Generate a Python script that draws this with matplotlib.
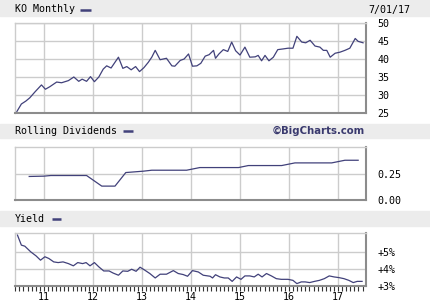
import matplotlib.pyplot as plt
from matplotlib.ticker import MultipleLocator, FixedLocator
from matplotlib.lines import Line2D
from matplotlib.patches import Rectangle

# KO monthly close (x in fractional years, 11 = 2011)
price_t = [10.43, 10.54, 10.63, 10.71, 10.82, 10.95, 11.03, 11.12, 11.26, 11.36,
           11.50, 11.61, 11.71, 11.78, 11.87, 11.95, 12.03, 12.12, 12.21, 12.28,
           12.37, 12.52, 12.61, 12.69, 12.78, 12.87, 12.95, 13.04, 13.13, 13.20,
           13.27, 13.37, 13.50, 13.61, 13.67, 13.78, 13.86, 13.95, 14.03, 14.12,
           14.20, 14.29, 14.37, 14.46, 14.50, 14.57, 14.66, 14.75, 14.83, 14.91,
           15.00, 15.10, 15.20, 15.31, 15.37, 15.44, 15.51, 15.59, 15.68, 15.77,
           15.88, 15.98, 16.08, 16.16, 16.26, 16.34, 16.43, 16.53, 16.63, 16.70,
           16.77, 16.84, 16.94, 17.04, 17.14, 17.24, 17.35, 17.41, 17.51]
price = [25.0, 27.5, 28.3, 29.2, 30.9, 32.8, 31.6, 32.3, 33.6, 33.4,
         34.0, 35.0, 33.8, 34.4, 33.8, 35.1, 33.7, 35.0, 37.2, 38.1,
         37.5, 40.5, 37.4, 37.9, 37.0, 37.9, 36.5, 37.6, 39.1, 40.5,
         42.4, 39.8, 40.2, 38.1, 38.0, 39.6, 40.0, 41.4, 38.0, 38.1,
         38.8, 40.8, 41.2, 42.4, 40.2, 41.4, 42.6, 42.1, 44.7, 42.3,
         41.1, 43.3, 40.5, 40.6, 41.0, 39.5, 41.0, 39.5, 40.5, 42.6,
         42.8, 43.0, 43.0, 46.3, 44.7, 44.5, 45.2, 43.6, 43.3, 42.4,
         42.4, 40.5, 41.6, 41.9, 42.4, 43.0, 45.7, 44.9, 44.5]

# rolling dividends
div_t = [10.70, 11.00, 11.14, 11.87, 12.18, 12.45, 12.67, 13.03, 13.20, 13.91,
         14.18, 14.97, 15.17, 15.85, 16.12, 16.87, 17.14, 17.41]
div = [0.222, 0.225, 0.231, 0.231, 0.131, 0.131, 0.259, 0.272, 0.281, 0.281,
       0.306, 0.306, 0.325, 0.325, 0.350, 0.350, 0.375, 0.375]

# dividend yield, %
yield_t = [10.46, 10.54, 10.61, 10.73, 10.84, 10.93, 11.02, 11.10, 11.20, 11.29,
           11.39, 11.50, 11.60, 11.69, 11.79, 11.86, 11.94, 12.03, 12.12, 12.22,
           12.33, 12.41, 12.52, 12.61, 12.71, 12.79, 12.88, 12.96, 13.04, 13.16,
           13.27, 13.37, 13.50, 13.64, 13.74, 13.84, 13.93, 14.03, 14.15, 14.25,
           14.39, 14.44, 14.50, 14.59, 14.68, 14.76, 14.84, 14.93, 15.02, 15.10,
           15.20, 15.29, 15.37, 15.45, 15.54, 15.64, 15.74, 15.84, 15.98, 16.08,
           16.16, 16.25, 16.33, 16.42, 16.52, 16.62, 16.72, 16.82, 16.92, 17.02,
           17.12, 17.22, 17.31, 17.39, 17.49]
yld = [5.98, 5.39, 5.33, 5.00, 4.76, 4.51, 4.71, 4.61, 4.41, 4.37,
       4.41, 4.31, 4.18, 4.37, 4.31, 4.37, 4.18, 4.37, 4.12, 3.88,
       3.88, 3.76, 3.63, 3.88, 3.86, 3.98, 3.86, 4.10, 3.96, 3.73,
       3.47, 3.69, 3.69, 3.90, 3.73, 3.67, 3.57, 3.90, 3.82, 3.63,
       3.57, 3.47, 3.66, 3.53, 3.47, 3.47, 3.27, 3.53, 3.39, 3.59,
       3.59, 3.53, 3.69, 3.53, 3.73, 3.59, 3.43, 3.39, 3.39, 3.33,
       3.14, 3.24, 3.24, 3.20, 3.27, 3.33, 3.43, 3.59, 3.53, 3.49,
       3.43, 3.33, 3.20, 3.27, 3.27]

years = [11, 12, 13, 14, 15, 16, 17]
year_labels = ['11', '12', '13', '14', '15', '16', '17']
price_ticks = [25, 30, 35, 40, 45, 50]
div_ticks = [0.0, 0.25]
div_labels = ['0.00', '0.25']
yld_ticks = [3, 4, 5]
yld_labels = ['+3%', '+4%', '+5%']

NAVY = '#41417a'
GRID = '#cccccc'
BAND = '#ececec'
DARK = '#8c8c8c'
MONO = 'DejaVu Sans Mono'
W, H = 430, 305
XMIN, XMAX = 10.41, 17.57

fig = plt.figure(figsize=(W / 100, H / 100), dpi=100)


def band(top, bottom):
    fig.patches.append(Rectangle((0, 1 - bottom / H), 1, (bottom - top) / H,
                                 transform=fig.transFigure, color=BAND, zorder=0))


def title(text, y, sw_x0, sw_x1):
    fig.text(15 / W, 1 - y / H, text, family=MONO, fontsize=7.2, va='center', ha='left')
    fig.add_artist(Line2D([sw_x0 / W, sw_x1 / W], [1 - y / H, 1 - y / H],
                          color=NAVY, lw=1.8, solid_capstyle='butt'))


def panel(top, bottom, ylim, ticks, labels):
    ax = fig.add_axes([15 / W, 1 - bottom / H, 351 / W, (bottom - top) / H])
    ax.set_xlim(XMIN, XMAX)
    ax.set_ylim(*ylim)
    ax.xaxis.set_major_locator(FixedLocator(years))
    ax.yaxis.set_major_locator(FixedLocator(ticks))
    ax.yaxis.tick_right()
    ax.set_yticklabels(labels, family=MONO, fontsize=7.2)
    ax.tick_params(axis='y', length=0, pad=8)
    ax.grid(True, color=GRID, lw=1)
    ax.set_axisbelow(True)
    for s in ['left', 'top']:
        ax.spines[s].set_color(GRID)
        ax.spines[s].set_linewidth(1)
    for s in ['right', 'bottom']:
        ax.spines[s].set_color(DARK)
        ax.spines[s].set_linewidth(1.5)
    return ax


band(0, 16)
band(124, 138)
band(211, 226)

title('KO Monthly', 9.5, 80, 91)
fig.text(410 / W, 1 - 9.5 / H, '7/01/17', family=MONO, fontsize=7.2, va='center', ha='right')
title('Rolling Dividends', 131, 122.5, 133)
fig.text(365 / W, 1 - 131 / H, '\u00a9BigCharts.com', fontsize=7.3, weight='bold',
         color='#3a3a6e', va='center', ha='right')
title('Yield', 219, 51.5, 61.5)

ax1 = panel(23, 113, (25, 50), price_ticks, [str(v) for v in price_ticks])
ax1.plot(price_t, price, color=NAVY, lw=0.9)
ax1.tick_params(axis='x', length=0, labelbottom=False)

ax2 = panel(147, 200, (0, 0.5), div_ticks, div_labels)
ax2.plot(div_t, div, color=NAVY, lw=0.9)
ax2.tick_params(axis='x', length=0, labelbottom=False)

ax3 = panel(233, 286, (3, 6.1), yld_ticks, yld_labels)
ax3.plot(yield_t, yld, color=NAVY, lw=0.9)
ax3.xaxis.set_minor_locator(MultipleLocator(1 / 12))
ax3.set_xticklabels(year_labels, family=MONO, fontsize=7.2)
ax3.tick_params(axis='x', which='both', length=3.5, width=0.8, color='#333333',
                direction='out', pad=1)

fig.savefig('out.png', dpi=100)
